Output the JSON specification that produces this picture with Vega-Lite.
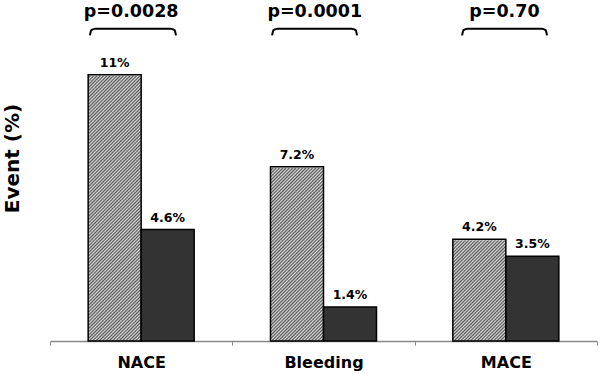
{
  "$schema": "https://vega.github.io/schema/vega-lite/v6.json",
  "width": 547,
  "height": 339,
  "autosize": "none",
  "padding": {"left": 50, "top": 2, "right": 3, "bottom": 33},
  "background": "white",
  "config": {
    "view": {"stroke": null},
    "font": "DejaVu Sans",
    "axis": {"labelFont": "DejaVu Sans", "titleFont": "DejaVu Sans"},
    "axisY": {
      "titleFontSize": 20, "titleFontWeight": "bold", "titleColor": "black",
      "titleAngle": -90, "titleX": -31.5, "titleY": 156, "titleAlign": "center", "titleBaseline": "alphabetic",
      "domain": false, "ticks": false, "labels": false, "grid": false
    }
  },
  "resolve": {"scale": {"x": "independent"}},
  "layer": [
    {
      "data": {
        "values": [
          {"cat": "NACE", "grp": "A", "value": 11, "label": "11%"},
          {"cat": "NACE", "grp": "B", "value": 4.6, "label": "4.6%"},
          {"cat": "Bleeding", "grp": "A", "value": 7.2, "label": "7.2%"},
          {"cat": "Bleeding", "grp": "B", "value": 1.4, "label": "1.4%"},
          {"cat": "MACE", "grp": "A", "value": 4.2, "label": "4.2%"},
          {"cat": "MACE", "grp": "B", "value": 3.5, "label": "3.5%"}
        ]
      },
      "encoding": {
        "x": {
          "field": "cat", "type": "nominal", "sort": ["NACE", "Bleeding", "MACE"],
          "scale": {"domain": ["NACE", "Bleeding", "MACE"], "paddingInner": 0, "paddingOuter": 0},
          "axis": {
            "title": null, "labelAngle": 0, "labelFontSize": 16, "labelFontWeight": "bold",
            "labelColor": "black", "labelPadding": 9, "domainColor": "#888888", "domainWidth": 1.5,
            "tickBand": "extent", "tickColor": "#888888", "tickSize": 4, "tickWidth": 1
          }
        },
        "xOffset": {
          "field": "grp", "type": "nominal",
          "scale": {"domain": ["A", "B"], "paddingInner": 0, "paddingOuter": 0.72}
        }
      },
      "layer": [
        {
          "transform": [{"filter": "datum.grp === 'A'"}],
          "mark": {
            "type": "bar",
            "strokeWidth": 0,
            "fill": {
              "gradient": "linear", "x1": 0, "y1": 0, "x2": 0.2291, "y2": 1.1721,
              "stops": [
                {"offset":0,"color":"#e0e0e0"},{"offset":0.005,"color":"#505050"},{"offset":0.01,"color":"#e0e0e0"},{"offset":0.015,"color":"#505050"},{"offset":0.02,"color":"#e0e0e0"},{"offset":0.025,"color":"#505050"},{"offset":0.03,"color":"#e0e0e0"},{"offset":0.035,"color":"#505050"},{"offset":0.04,"color":"#e0e0e0"},{"offset":0.045,"color":"#505050"},
                {"offset":0.05,"color":"#e0e0e0"},{"offset":0.055,"color":"#505050"},{"offset":0.06,"color":"#e0e0e0"},{"offset":0.065,"color":"#505050"},{"offset":0.07,"color":"#e0e0e0"},{"offset":0.075,"color":"#505050"},{"offset":0.08,"color":"#e0e0e0"},{"offset":0.085,"color":"#505050"},{"offset":0.09,"color":"#e0e0e0"},{"offset":0.095,"color":"#505050"},
                {"offset":0.1,"color":"#e0e0e0"},{"offset":0.105,"color":"#505050"},{"offset":0.11,"color":"#e0e0e0"},{"offset":0.115,"color":"#505050"},{"offset":0.12,"color":"#e0e0e0"},{"offset":0.125,"color":"#505050"},{"offset":0.13,"color":"#e0e0e0"},{"offset":0.135,"color":"#505050"},{"offset":0.14,"color":"#e0e0e0"},{"offset":0.145,"color":"#505050"},
                {"offset":0.15,"color":"#e0e0e0"},{"offset":0.155,"color":"#505050"},{"offset":0.16,"color":"#e0e0e0"},{"offset":0.165,"color":"#505050"},{"offset":0.17,"color":"#e0e0e0"},{"offset":0.175,"color":"#505050"},{"offset":0.18,"color":"#e0e0e0"},{"offset":0.185,"color":"#505050"},{"offset":0.19,"color":"#e0e0e0"},{"offset":0.195,"color":"#505050"},
                {"offset":0.2,"color":"#e0e0e0"},{"offset":0.205,"color":"#505050"},{"offset":0.21,"color":"#e0e0e0"},{"offset":0.215,"color":"#505050"},{"offset":0.22,"color":"#e0e0e0"},{"offset":0.225,"color":"#505050"},{"offset":0.23,"color":"#e0e0e0"},{"offset":0.235,"color":"#505050"},{"offset":0.24,"color":"#e0e0e0"},{"offset":0.245,"color":"#505050"},
                {"offset":0.25,"color":"#e0e0e0"},{"offset":0.255,"color":"#505050"},{"offset":0.26,"color":"#e0e0e0"},{"offset":0.265,"color":"#505050"},{"offset":0.27,"color":"#e0e0e0"},{"offset":0.275,"color":"#505050"},{"offset":0.28,"color":"#e0e0e0"},{"offset":0.285,"color":"#505050"},{"offset":0.29,"color":"#e0e0e0"},{"offset":0.295,"color":"#505050"},
                {"offset":0.3,"color":"#e0e0e0"},{"offset":0.305,"color":"#505050"},{"offset":0.31,"color":"#e0e0e0"},{"offset":0.315,"color":"#505050"},{"offset":0.32,"color":"#e0e0e0"},{"offset":0.325,"color":"#505050"},{"offset":0.33,"color":"#e0e0e0"},{"offset":0.335,"color":"#505050"},{"offset":0.34,"color":"#e0e0e0"},{"offset":0.345,"color":"#505050"},
                {"offset":0.35,"color":"#e0e0e0"},{"offset":0.355,"color":"#505050"},{"offset":0.36,"color":"#e0e0e0"},{"offset":0.365,"color":"#505050"},{"offset":0.37,"color":"#e0e0e0"},{"offset":0.375,"color":"#505050"},{"offset":0.38,"color":"#e0e0e0"},{"offset":0.385,"color":"#505050"},{"offset":0.39,"color":"#e0e0e0"},{"offset":0.395,"color":"#505050"},
                {"offset":0.4,"color":"#e0e0e0"},{"offset":0.405,"color":"#505050"},{"offset":0.41,"color":"#e0e0e0"},{"offset":0.415,"color":"#505050"},{"offset":0.42,"color":"#e0e0e0"},{"offset":0.425,"color":"#505050"},{"offset":0.43,"color":"#e0e0e0"},{"offset":0.435,"color":"#505050"},{"offset":0.44,"color":"#e0e0e0"},{"offset":0.445,"color":"#505050"},
                {"offset":0.45,"color":"#e0e0e0"},{"offset":0.455,"color":"#505050"},{"offset":0.46,"color":"#e0e0e0"},{"offset":0.465,"color":"#505050"},{"offset":0.47,"color":"#e0e0e0"},{"offset":0.475,"color":"#505050"},{"offset":0.48,"color":"#e0e0e0"},{"offset":0.485,"color":"#505050"},{"offset":0.49,"color":"#e0e0e0"},{"offset":0.495,"color":"#505050"},
                {"offset":0.5,"color":"#e0e0e0"},{"offset":0.505,"color":"#505050"},{"offset":0.51,"color":"#e0e0e0"},{"offset":0.515,"color":"#505050"},{"offset":0.52,"color":"#e0e0e0"},{"offset":0.525,"color":"#505050"},{"offset":0.53,"color":"#e0e0e0"},{"offset":0.535,"color":"#505050"},{"offset":0.54,"color":"#e0e0e0"},{"offset":0.545,"color":"#505050"},
                {"offset":0.55,"color":"#e0e0e0"},{"offset":0.555,"color":"#505050"},{"offset":0.56,"color":"#e0e0e0"},{"offset":0.565,"color":"#505050"},{"offset":0.57,"color":"#e0e0e0"},{"offset":0.575,"color":"#505050"},{"offset":0.58,"color":"#e0e0e0"},{"offset":0.585,"color":"#505050"},{"offset":0.59,"color":"#e0e0e0"},{"offset":0.595,"color":"#505050"},
                {"offset":0.6,"color":"#e0e0e0"},{"offset":0.605,"color":"#505050"},{"offset":0.61,"color":"#e0e0e0"},{"offset":0.615,"color":"#505050"},{"offset":0.62,"color":"#e0e0e0"},{"offset":0.625,"color":"#505050"},{"offset":0.63,"color":"#e0e0e0"},{"offset":0.635,"color":"#505050"},{"offset":0.64,"color":"#e0e0e0"},{"offset":0.645,"color":"#505050"},
                {"offset":0.65,"color":"#e0e0e0"},{"offset":0.655,"color":"#505050"},{"offset":0.66,"color":"#e0e0e0"},{"offset":0.665,"color":"#505050"},{"offset":0.67,"color":"#e0e0e0"},{"offset":0.675,"color":"#505050"},{"offset":0.68,"color":"#e0e0e0"},{"offset":0.685,"color":"#505050"},{"offset":0.69,"color":"#e0e0e0"},{"offset":0.695,"color":"#505050"},
                {"offset":0.7,"color":"#e0e0e0"},{"offset":0.705,"color":"#505050"},{"offset":0.71,"color":"#e0e0e0"},{"offset":0.715,"color":"#505050"},{"offset":0.72,"color":"#e0e0e0"},{"offset":0.725,"color":"#505050"},{"offset":0.73,"color":"#e0e0e0"},{"offset":0.735,"color":"#505050"},{"offset":0.74,"color":"#e0e0e0"},{"offset":0.745,"color":"#505050"},
                {"offset":0.75,"color":"#e0e0e0"},{"offset":0.755,"color":"#505050"},{"offset":0.76,"color":"#e0e0e0"},{"offset":0.765,"color":"#505050"},{"offset":0.77,"color":"#e0e0e0"},{"offset":0.775,"color":"#505050"},{"offset":0.78,"color":"#e0e0e0"},{"offset":0.785,"color":"#505050"},{"offset":0.79,"color":"#e0e0e0"},{"offset":0.795,"color":"#505050"},
                {"offset":0.8,"color":"#e0e0e0"},{"offset":0.805,"color":"#505050"},{"offset":0.81,"color":"#e0e0e0"},{"offset":0.815,"color":"#505050"},{"offset":0.82,"color":"#e0e0e0"},{"offset":0.825,"color":"#505050"},{"offset":0.83,"color":"#e0e0e0"},{"offset":0.835,"color":"#505050"},{"offset":0.84,"color":"#e0e0e0"},{"offset":0.845,"color":"#505050"},
                {"offset":0.85,"color":"#e0e0e0"},{"offset":0.855,"color":"#505050"},{"offset":0.86,"color":"#e0e0e0"},{"offset":0.865,"color":"#505050"},{"offset":0.87,"color":"#e0e0e0"},{"offset":0.875,"color":"#505050"},{"offset":0.88,"color":"#e0e0e0"},{"offset":0.885,"color":"#505050"},{"offset":0.89,"color":"#e0e0e0"},{"offset":0.895,"color":"#505050"},
                {"offset":0.9,"color":"#e0e0e0"},{"offset":0.905,"color":"#505050"},{"offset":0.91,"color":"#e0e0e0"},{"offset":0.915,"color":"#505050"},{"offset":0.92,"color":"#e0e0e0"},{"offset":0.925,"color":"#505050"},{"offset":0.93,"color":"#e0e0e0"},{"offset":0.935,"color":"#505050"},{"offset":0.94,"color":"#e0e0e0"},{"offset":0.945,"color":"#505050"},
                {"offset":0.95,"color":"#e0e0e0"},{"offset":0.955,"color":"#505050"},{"offset":0.96,"color":"#e0e0e0"},{"offset":0.965,"color":"#505050"},{"offset":0.97,"color":"#e0e0e0"},{"offset":0.975,"color":"#505050"},{"offset":0.98,"color":"#e0e0e0"},{"offset":0.985,"color":"#505050"},{"offset":0.99,"color":"#e0e0e0"},{"offset":0.995,"color":"#505050"},
                {"offset":1,"color":"#e0e0e0"}
              ]
            }
          },
          "encoding": {
            "y": {
              "datum": 11.2, "type": "quantitative", "title": "Event (%)",
              "scale": {"domain": [0, 14], "nice": false, "zero": true}
            }
          }
        },
        {
          "transform": [{"filter": "datum.grp === 'A'"}],
          "mark": {"type": "bar", "fill": "white", "stroke": "white", "strokeWidth": 2},
          "encoding": {
            "y": {"field": "value", "type": "quantitative", "title": "Event (%)"},
            "y2": {"datum": 11.2}
          }
        },
        {
          "mark": {"type": "bar", "stroke": "black", "strokeWidth": 1.5},
          "encoding": {
            "y": {"field": "value", "type": "quantitative", "title": "Event (%)"},
            "fill": {
              "field": "grp", "type": "nominal",
              "scale": {"domain": ["A", "B"], "range": ["rgba(0,0,0,0)", "#333333"]},
              "legend": null
            }
          }
        },
        {
          "mark": {"type": "text", "fontSize": 12.5, "fontWeight": "bold", "color": "black", "baseline": "alphabetic", "dy": -8},
          "encoding": {
            "y": {"field": "value", "type": "quantitative", "title": "Event (%)"},
            "text": {"field": "label"}
          }
        }
      ]
    },
    {
      "layer": [
        {
          "data": {
            "values": [
              {"g": "NACE", "bx": 0.219, "by": 12.62},
              {"g": "NACE", "bx": 0.227, "by": 12.84},
              {"g": "NACE", "bx": 0.249, "by": 12.9},
              {"g": "NACE", "bx": 0.661, "by": 12.9},
              {"g": "NACE", "bx": 0.683, "by": 12.84},
              {"g": "NACE", "bx": 0.691, "by": 12.62},
              {"g": "Bleeding", "bx": 1.218, "by": 12.62},
              {"g": "Bleeding", "bx": 1.226, "by": 12.84},
              {"g": "Bleeding", "bx": 1.248, "by": 12.9},
              {"g": "Bleeding", "bx": 1.654, "by": 12.9},
              {"g": "Bleeding", "bx": 1.676, "by": 12.84},
              {"g": "Bleeding", "bx": 1.684, "by": 12.62},
              {"g": "MACE", "bx": 2.26, "by": 12.62},
              {"g": "MACE", "bx": 2.268, "by": 12.84},
              {"g": "MACE", "bx": 2.29, "by": 12.9},
              {"g": "MACE", "bx": 2.696, "by": 12.9},
              {"g": "MACE", "bx": 2.718, "by": 12.84},
              {"g": "MACE", "bx": 2.726, "by": 12.62}
            ]
          },
          "mark": {"type": "line", "color": "black", "strokeWidth": 2, "interpolate": "monotone"},
          "encoding": {
            "x": {"field": "bx", "type": "quantitative", "scale": {"domain": [0, 3], "nice": false, "zero": false}, "axis": null},
            "y": {"field": "by", "type": "quantitative", "title": "Event (%)", "scale": {"domain": [0, 14], "nice": false}},
            "detail": {"field": "g"}
          }
        },
        {
          "data": {
            "values": [
              {"px": 0.445, "py": 13.4, "p": "p=0.0028"},
              {"px": 1.452, "py": 13.4, "p": "p=0.0001"},
              {"px": 2.492, "py": 13.4, "p": "p=0.70"}
            ]
          },
          "mark": {"type": "text", "fontSize": 17.5, "fontWeight": "bold", "color": "black", "baseline": "alphabetic"},
          "encoding": {
            "x": {"field": "px", "type": "quantitative", "scale": {"domain": [0, 3], "nice": false, "zero": false}, "axis": null},
            "y": {"field": "py", "type": "quantitative", "title": "Event (%)", "scale": {"domain": [0, 14], "nice": false}},
            "text": {"field": "p"}
          }
        }
      ]
    }
  ]
}
